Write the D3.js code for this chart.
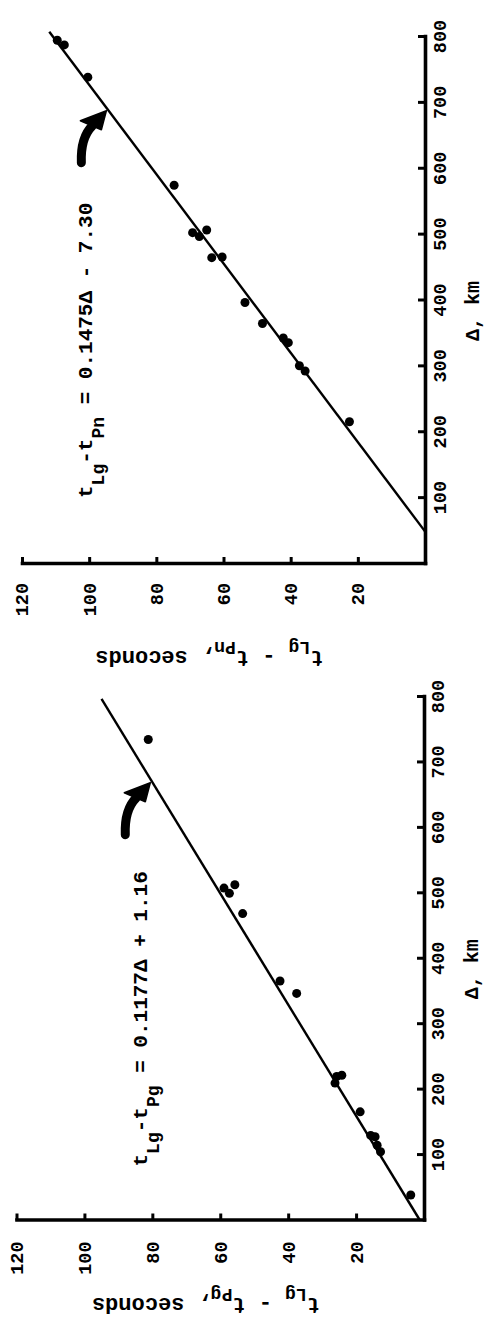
<!DOCTYPE html>
<html>
<head>
<meta charset="utf-8">
<script src="https://cdn.jsdelivr.net/npm/d3@7"></script>
<style>
  html, body { margin: 0; padding: 0; background: #fff; }
  svg { display: block; }
  text { font-family: "Liberation Mono", "DejaVu Sans Mono", monospace; font-weight: bold; fill: #000; }
</style>
</head>
<body>
<svg id="fig" width="487" height="1320"></svg>
<script>
// Axis ticks
const distTicks = [100, 200, 300, 400, 500, 600, 700, 800];   // Δ, km
const timeTicks = [20, 40, 60, 80, 100, 120];                  // seconds

// Lg − Pn travel-time differences
const pnDist = [795, 788, 739, 575, 503, 497, 507, 465, 466, 397, 365, 343, 336, 301, 293, 216];
const pnTime = [109.5, 107.4, 100.4, 74.7, 69.2, 67.2, 65.0, 63.5, 60.4, 53.6, 48.4, 42.2, 40.7, 37.4, 35.7, 22.5];

// Lg − Pg travel-time differences
const pgDist = [735, 508, 500, 513, 469, 366, 347, 220, 210, 222, 166, 130, 128, 115, 105, 39];
const pgTime = [81.2, 58.9, 57.3, 55.7, 53.4, 42.4, 37.5, 25.7, 26.2, 24.2, 18.8, 15.7, 14.4, 13.8, 12.8, 3.9];

// Least-squares lines
const pnFit = { slope: 0.1475, intercept: -7.30 };
const pgFit = { slope: 0.1177, intercept: 1.16 };

const svg = d3.select("#fig");

// Each panel is drawn in an ordinary chart frame and turned a quarter turn
// so that distance runs up the page and time runs to the left.
function drawPanel(cfg) {
  const g = svg.append("g")
    .attr("transform", `translate(${cfg.ox},${cfg.oy}) rotate(-90)`);

  const x = d3.scaleLinear().domain([0, 800]).range([0, cfg.lenX]);
  const y = d3.scaleLinear().domain([0, 120]).range([0, -cfg.lenY]);

  const fit = d => cfg.fit.slope * d + cfg.fit.intercept;
  const dStart = Math.max(0, -cfg.fit.intercept / cfg.fit.slope);

  // axes
  const xAxis = g.append("g").attr("class", "x-axis")
    .call(d3.axisBottom(x).tickValues(distTicks).tickSizeInner(-7).tickSizeOuter(0).tickPadding(cfg.xPad));
  const yAxis = g.append("g").attr("class", "y-axis")
    .call(d3.axisLeft(y).tickValues(timeTicks).tickSizeInner(-7).tickSizeOuter(0).tickPadding(cfg.yPad));

  [xAxis, yAxis].forEach(a => {
    a.attr("font-size", null).attr("font-family", null).attr("color", "#000");
    a.select(".domain").attr("stroke-width", 3.6).attr("stroke-linecap", "square");
    a.selectAll(".tick line").attr("stroke-width", 3);
    a.selectAll(".tick text").style("font-size", "18.5px");
  });

  // fitted line
  g.append("path")
    .attr("d", d3.line().x(d => x(d)).y(d => y(fit(d)))([dStart, cfg.fitEnd]))
    .attr("fill", "none").attr("stroke", "#000").attr("stroke-width", 2.4);

  // observations
  g.selectAll("circle.obs")
    .data(d3.zip(cfg.dist, cfg.time))
    .join("circle")
    .attr("class", "obs")
    .attr("cx", d => x(d[0]))
    .attr("cy", d => y(d[1]))
    .attr("r", 4.5)
    .attr("fill", "#000");

  // curved arrow pointing at the line
  const tip = [x(cfg.arrowAt), y(fit(cfg.arrowAt) + 0.7)];
  const arrow = g.append("g").attr("transform", `translate(${tip[0]},${tip[1]})`);
  arrow.append("path")
    .attr("d", "M-52,-25 Q-27,-26 -15,-14")
    .attr("fill", "none").attr("stroke", "#000").attr("stroke-width", 9).attr("stroke-linecap", "round");
  arrow.append("path")
    .attr("d", "M0,0 L-10,-26 L-19,-5 Z")
    .attr("fill", "#000").attr("stroke", "#000").attr("stroke-width", 1.5).attr("stroke-linejoin", "round");

  // equation of the line
  const eq = g.append("text")
    .attr("x", cfg.eqX).attr("y", cfg.eqY)
    .style("font-size", "21px").style("white-space", "pre");
  eq.append("tspan").text("t");
  eq.append("tspan").attr("dy", 12).style("font-size", "18px").text("Lg");
  eq.append("tspan").attr("dy", -12).text("-t");
  eq.append("tspan").attr("dy", 12).style("font-size", "18px").text(cfg.sub);
  eq.append("tspan").attr("dy", -12).text(cfg.eqRest);

  // axis titles
  g.append("text")
    .attr("x", cfg.lenX * 0.48).attr("y", cfg.xTitleY)
    .attr("text-anchor", "middle")
    .style("font-size", "20px")
    .text("Δ, km");

  const yt = g.append("text")
    .attr("transform", `translate(${cfg.yTitleX},${-cfg.lenY * 0.535}) rotate(-90)`)
    .attr("text-anchor", "middle")
    .style("font-size", "22px").style("white-space", "pre");
  yt.append("tspan").text("t");
  yt.append("tspan").attr("dy", 9).style("font-size", "18px").text("Lg");
  yt.append("tspan").attr("dy", -9).text(" - t");
  yt.append("tspan").attr("dy", 9).style("font-size", "18px").text(cfg.sub);
  yt.append("tspan").attr("dy", -9).text(", seconds");
}

drawPanel({
  ox: 425, oy: 564, lenX: 527, lenY: 403,
  dist: pnDist, time: pnTime, fit: pnFit, fitEnd: 808,
  sub: "Pn", eqRest: " = 0.1475Δ - 7.30",
  eqX: 66, eqY: -333,
  arrowAt: 688,
  xPad: 8, yPad: 19, xTitleY: 54, yTitleX: -87
});

drawPanel({
  ox: 424, oy: 1220.5, lenX: 523.5, lenY: 407.5,
  dist: pgDist, time: pgTime, fit: pgFit, fitEnd: 797,
  sub: "Pg", eqRest: " = 0.1177Δ + 1.16",
  eqX: 54, eqY: -277,
  arrowAt: 669,
  xPad: 7, yPad: 21, xTitleY: 54, yTitleX: -77
});
</script>
</body>
</html>
